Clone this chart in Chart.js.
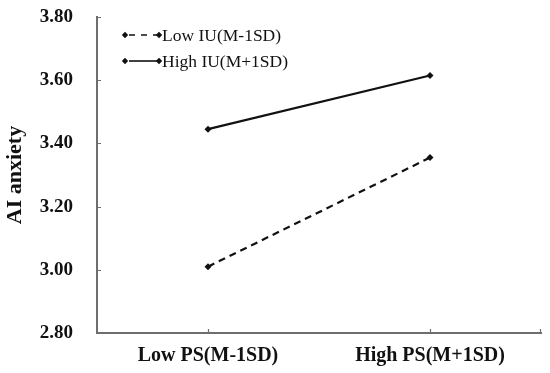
<!DOCTYPE html>
<html><head><meta charset="utf-8">
<script src="https://cdn.jsdelivr.net/npm/chart.js@4"></script>
<style>html,body{margin:0;padding:0;background:#fff}#wrap{width:550px;height:373px}</style>
</head><body><div id="wrap"><canvas id="c" width="550" height="373"></canvas></div>
<script>
const categories = ["Low PS(M-1SD)", "High PS(M+1SD)"];
const seriesNames = ["Low IU(M-1SD)", "High IU(M+1SD)"];
const lowIU = [3.01, 3.355];
const highIU = [3.445, 3.615];
const yTicks = [2.8, 3.0, 3.2, 3.4, 3.6, 3.8];
const yTitle = "AI anxiety";

const axisColor = "#6e6e6e";
const serif = "'Liberation Serif', 'Times New Roman', serif";

const inwardTicks = {
  id: 'inwardTicks',
  afterDraw(chart) {
    const ctx = chart.ctx, x = chart.scales.x, y = chart.scales.y, a = chart.chartArea;
    ctx.save();
    ctx.strokeStyle = axisColor; ctx.lineWidth = 1.2;
    ctx.beginPath();
    yTicks.forEach(v => { const py = Math.round(y.getPixelForValue(v)) + 0.5; ctx.moveTo(a.left, py); ctx.lineTo(a.left + 4, py); });
    categories.forEach((c, i) => { const px = Math.round(x.getPixelForValue(i)) + 0.5; ctx.moveTo(px, a.bottom); ctx.lineTo(px, a.bottom - 4); });
    ctx.moveTo(a.right - 0.5, a.bottom); ctx.lineTo(a.right - 0.5, a.bottom - 4);
    ctx.stroke();
    // legend
    ctx.font = "17.5px " + serif;
    ctx.textBaseline = "middle";
    ctx.fillStyle = "#111";
    const rows = [35, 61];
    chart.data.datasets.forEach((ds, i) => {
      const yy = rows[i], x0 = 125, x1 = 159;
      ctx.strokeStyle = "#111"; ctx.lineWidth = 1.6;
      ctx.setLineDash(ds.borderDash ? [6, 6] : []);
      ctx.beginPath(); ctx.moveTo(x0 + 4, yy); ctx.lineTo(x1, yy); ctx.stroke();
      ctx.setLineDash([]);
      [x0, x1].forEach(px => { ctx.beginPath(); ctx.moveTo(px, yy - 3.2); ctx.lineTo(px + 3.2, yy); ctx.lineTo(px, yy + 3.2); ctx.lineTo(px - 3.2, yy); ctx.closePath(); ctx.fill(); });
      ctx.fillText(ds.label, 162, yy + 1);
    });
    ctx.restore();
  }
};

new Chart(document.getElementById('c'), {
  type: 'line',
  data: {
    labels: categories,
    datasets: [
      { label: seriesNames[0], data: lowIU, borderColor: "#111", backgroundColor: "#111", borderWidth: 2.2, borderDash: [7, 5], pointStyle: 'rectRot', pointRadius: 3.5, pointBorderWidth: 0, tension: 0 },
      { label: seriesNames[1], data: highIU, borderColor: "#111", backgroundColor: "#111", borderWidth: 2.2, pointStyle: 'rectRot', pointRadius: 3.5, pointBorderWidth: 0, tension: 0 }
    ]
  },
  options: {
    responsive: false, animation: false, devicePixelRatio: 1,
    layout: { padding: { top: 17, right: 9, left: 2, bottom: 0 } },
    plugins: { legend: { display: false }, tooltip: { enabled: false } },
    scales: {
      x: {
        offset: true,
        grid: { display: false, drawTicks: false },
        border: { color: axisColor, width: 2 },
        ticks: { color: "#111", font: { family: serif, size: 20, weight: 'bold' }, padding: 11 },
        afterFit(s) { s.height = 40; s.paddingLeft = 0; s.paddingRight = 0; }
      },
      y: {
        min: 2.8, max: 3.8,
        afterBuildTicks(s) { s.ticks = yTicks.map(v => ({ value: v })); },
        grid: { display: false, drawTicks: false },
        border: { color: axisColor, width: 2 },
        ticks: { color: "#111", font: { family: serif, size: 19, weight: 'bold' }, padding: 24, callback: v => v.toFixed(2) },
        title: { display: true, text: yTitle, color: "#111", font: { family: serif, size: 22, weight: 'bold' }, padding: 0 },
        afterFit(s) { s.width = 95; s.paddingTop = 0; s.paddingBottom = 0; }
      }
    }
  },
  plugins: [inwardTicks]
});
</script></body></html>
